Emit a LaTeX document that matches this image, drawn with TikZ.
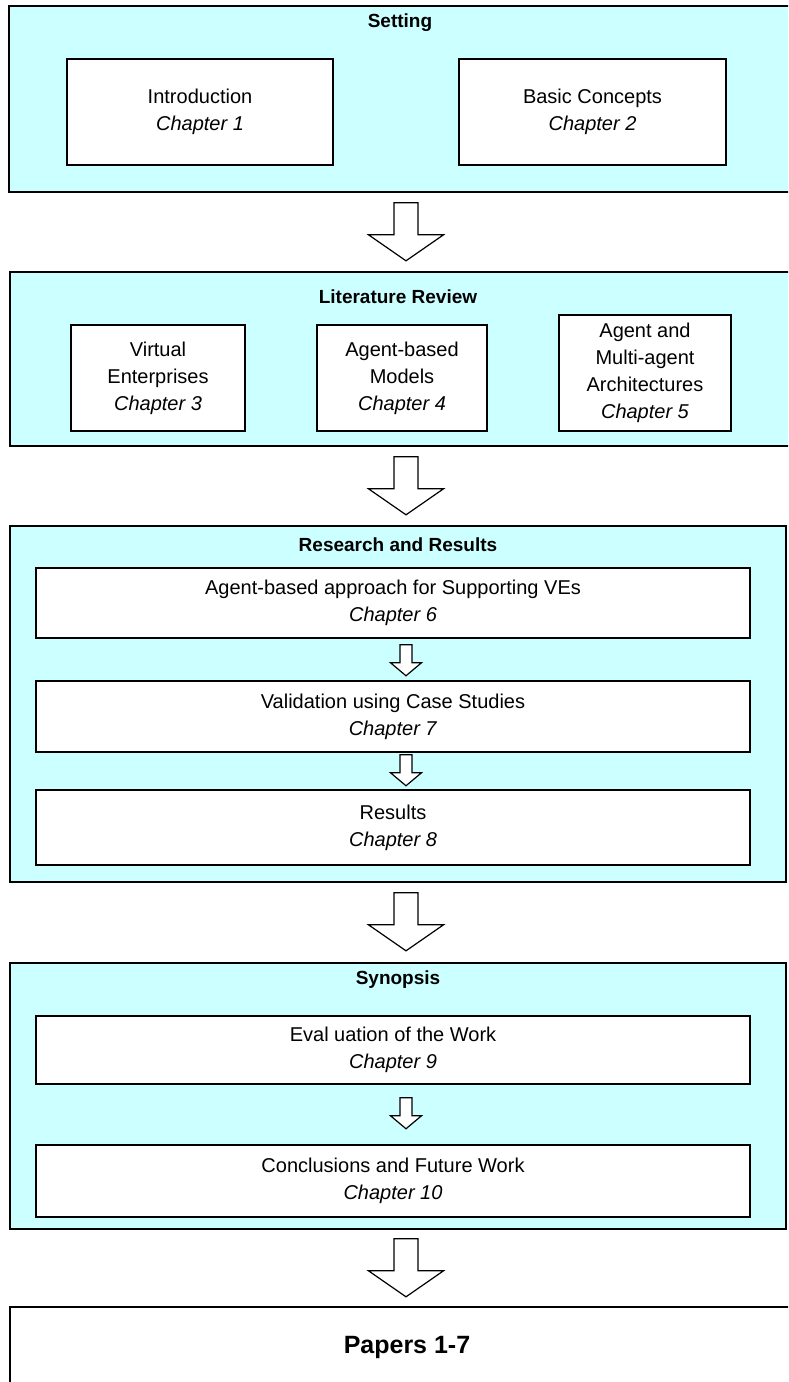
\documentclass[tikz,border=0pt]{standalone}
\usepackage{fontspec}
\setmainfont{Liberation Sans}
\definecolor{panelcyan}{HTML}{CCFFFF}
\newcommand\bodyfont{\fontsize{20}{27}\selectfont}
\newcommand\titlefont{\fontsize{19}{22}\selectfont\bfseries}
\begin{document}
\begin{tikzpicture}[x=1pt,y=-1pt,
  panel/.style={draw=black, line width=1.6pt, fill=panelcyan, inner sep=0pt},
  chapbox/.style={draw=black, line width=1.5pt, fill=white, align=center,
    font=\bodyfont, inner sep=0pt},
  paneltitle/.style={font=\titlefont, inner sep=0pt},
  blockarrow/.style={draw=black, line width=1.2pt, fill=white, line join=miter},
  pics/bigarrow/.style={code={
    \draw[blockarrow] (-12,0) -- (12,0) -- (12,32) -- (37.5,32) -- (0,58)
      -- (-37.5,32) -- (-12,32) -- cycle;}},
  pics/smallarrow/.style={code={
    \draw[blockarrow] (-6,0) -- (6,0) -- (6,18) -- (15.5,18) -- (0,31)
      -- (-15.5,18) -- (-6,18) -- cycle;}},
]
\useasboundingbox (0,0) rectangle (788,1382);
\clip (0,0) rectangle (788,1382);

% ---- Setting ----
\node[panel, minimum width=791, minimum height=186] (setting) at (404.5,99) {};
\node[paneltitle] (settingT) at (400,23) {Setting};
\node[chapbox, minimum width=266, minimum height=106] (intro) at (200,112)
  {Introduction\\\textit{Chapter 1}};
\node[chapbox, minimum width=267, minimum height=106] (basic) at (592.5,112)
  {Basic Concepts\\\textit{Chapter 2}};

\pic at ([yshift=-10pt]setting.south -| 406,0) {bigarrow};

% ---- Literature Review ----
\node[panel, minimum width=790, minimum height=174] (lit) at (405,359) {};
\node[paneltitle] (litT) at (398,297) {Literature Review};
\node[chapbox, minimum width=174, minimum height=106] (ve) at (158,378)
  {Virtual\\Enterprises\\\textit{Chapter 3}};
\node[chapbox, minimum width=170, minimum height=106] (abm) at (402,378)
  {Agent-based\\Models\\\textit{Chapter 4}};
\node[chapbox, minimum width=172, minimum height=116] (mas) at (645,373)
  {Agent and\\Multi-agent\\Architectures\\\textit{Chapter 5}};

\pic at ([yshift=-10pt]lit.south -| 406,0) {bigarrow};

% ---- Research and Results ----
\node[panel, minimum width=776, minimum height=356] (res) at (398,704) {};
\node[paneltitle] (resT) at (398,545) {Research and Results};
\node[chapbox, minimum width=714, minimum height=70] (r1) at (393,603)
  {Agent-based approach for Supporting VEs\\\textit{Chapter 6}};
\node[chapbox, minimum width=714, minimum height=71] (r2) at (393,716.5)
  {Validation using Case Studies\\\textit{Chapter 7}};
\node[chapbox, minimum width=714, minimum height=75] (r3) at (393,827.5)
  {Results\\\textit{Chapter 8}};
\pic at ([yshift=-6pt]r1.south -| 406,0) {smallarrow};
\pic at ([yshift=-2pt]r2.south -| 406,0) {smallarrow};

\pic at ([yshift=-10pt]res.south -| 406,0) {bigarrow};

% ---- Synopsis ----
\node[panel, minimum width=776, minimum height=266] (syn) at (398,1096) {};
\node[paneltitle] (synT) at (398,980) {Synopsis};
\node[chapbox, minimum width=714, minimum height=68] (s1) at (393,1050)
  {Eval uation of the Work\\\textit{Chapter 9}};
\node[chapbox, minimum width=714, minimum height=72] (s2) at (393,1181)
  {Conclusions and Future Work\\\textit{Chapter 10}};
\pic at ([yshift=-13pt]s1.south -| 406,0) {smallarrow};

\pic at ([yshift=-9pt]syn.south -| 406,0) {bigarrow};

% ---- Papers ----
\node[draw=black, line width=1.6pt, fill=white, minimum width=790,
  minimum height=100, inner sep=0pt] (papers) at (405,1357) {};
\node[font=\fontsize{25}{30}\selectfont\bfseries, inner sep=0pt] (papersT)
  at (407,1347) {Papers 1-7};
\end{tikzpicture}
\end{document}
